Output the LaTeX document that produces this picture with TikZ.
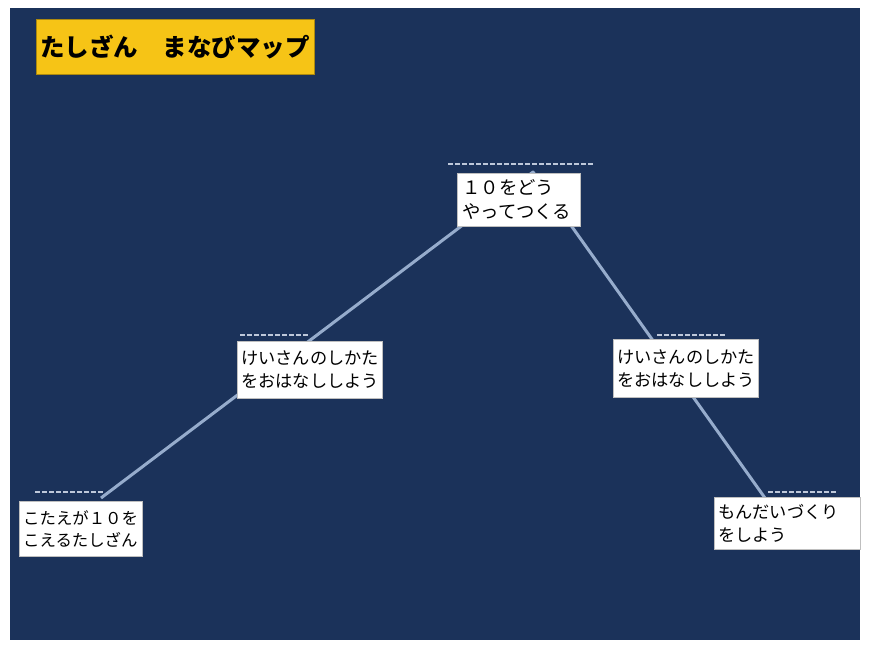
\documentclass[tikz,border=0pt]{standalone}
\usepackage{fontspec}
\setmainfont{Noto Sans CJK JP}
\usepackage{xcolor}
\definecolor{mapnavy}{RGB}{27,50,90}
\definecolor{mapgold}{RGB}{246,196,22}
\definecolor{ridgeblue}{RGB}{150,172,204}
\definecolor{stepgray}{RGB}{190,200,218}

\begin{document}
\begin{tikzpicture}[x=1pt,y=-1pt,
        mapbox/.style={draw=gray!50,fill=white,anchor=north west,align=left,
            inner xsep=4pt,inner ysep=0pt,text=black,
            font=\fontsize{17.2}{23}\selectfont},
        ridge/.style={ridgeblue,line width=3pt,line join=round},
        level/.style={stepgray,line width=1.2pt,dash pattern=on 4.5pt off 2.5pt}]
                \useasboundingbox (0,0) rectangle (871,649);
                \fill[mapnavy] (10,8) rectangle (860,640);

                \node[draw=mapgold!70!black,fill=mapgold,anchor=north west,align=left,
                    text width=270pt,minimum height=55pt,inner xsep=4pt,
                    font=\fontsize{24.5}{29}\selectfont\bfseries] (title) at (36,19) {たしざん　まなびマップ};

                % the ridge and its steps
                \coordinate (p1) at (101,498);
                \coordinate (p3) at (533,172);
                \coordinate (p5) at (765,498);

                \coordinate (d1a) at (35,492);
                \coordinate (d1b) at (103,492);
                \coordinate (d2a) at (240,335);
                \coordinate (d2b) at (309,335);
                \coordinate (d3a) at (448,164);
                \coordinate (d3b) at (595,164);
                \coordinate (d4a) at (657,335);
                \coordinate (d4b) at (726,335);
                \coordinate (d5a) at (768,492);
                \coordinate (d5b) at (838,492);

                \draw[level] (d1a) -- (d1b);
                \draw[level] (d2a) -- (d2b);
                \draw[level] (d3a) -- (d3b);
                \draw[level] (d4a) -- (d4b);
                \draw[level] (d5a) -- (d5b);

                \draw[ridge] (p1) -- (p3) -- (p5);

                \node[mapbox,text width=115pt,minimum height=55pt,font=\fontsize{16.4}{22}\selectfont] (start) at (19,501) {こたえが１０を\\こえるたしざん};
                \node[mapbox,text width=137pt,minimum height=57pt] (talkL) at (237,341) {けいさんのしかた\\をおはなししよう};
                \node[mapbox,text width=113pt,minimum height=53pt,inner xsep=5pt,font=\fontsize{18.4}{24}\selectfont] (top) at (457,173) {１０をどう\\やってつくる};
                \node[mapbox,text width=137pt,minimum height=58pt] (talkR) at (613,339) {けいさんのしかた\\をおはなししよう};
                \node[mapbox,text width=138pt,minimum height=52pt] (make) at (714,497) {もんだいづくり\\をしよう};
            \end{tikzpicture}
\end{document}
